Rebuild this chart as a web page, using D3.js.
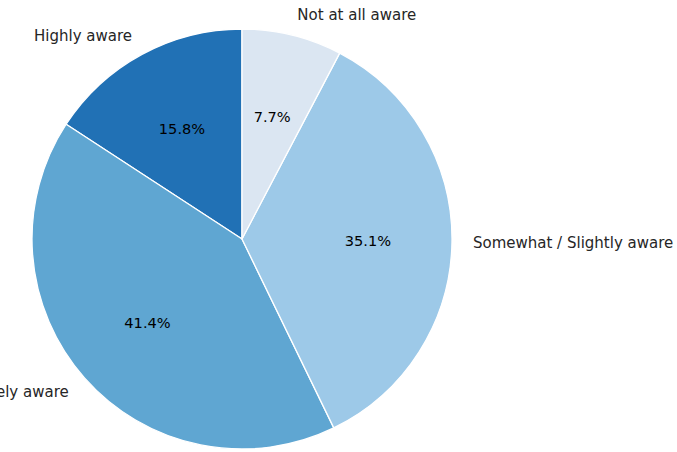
<!DOCTYPE html>
<html>
<head>
<meta charset="utf-8">
<script src="https://cdn.jsdelivr.net/npm/d3@7"></script>
<style>
  html, body { margin: 0; padding: 0; background: #fff; }
  svg { display: block; }
</style>
</head>
<body>
<svg id="chart" width="677" height="452"></svg>
<script>
const categories = ["Highly aware", "Moderately aware", "Somewhat / Slightly aware", "Not at all aware"];
const values = [15.8, 41.4, 35.1, 7.7];
const colors = ["#2171b5", "#5fa6d2", "#9dc9e8", "#dbe6f2"];

const width = 677, height = 452;
const cx = 242, cy = 239, r = 210;
const svg = d3.select("#chart");
const g = svg.append("g").attr("transform", `translate(${cx},${cy})`);

const data = categories.map((c, i) => ({ cat: c, value: values[i], color: colors[i] }));

// matplotlib style: start at 12 o'clock, counterclockwise
const pie = d3.pie().value(d => d.value).sort(null).startAngle(0).endAngle(-2 * Math.PI);
const arcs = pie(data);
const arc = d3.arc().innerRadius(0).outerRadius(r);

g.selectAll("path.slice").data(arcs).enter().append("path")
  .attr("class", "slice")
  .attr("d", arc)
  .attr("fill", d => d.data.color)
  .attr("stroke", "#fff")
  .attr("stroke-width", 1.3)
  .attr("stroke-linejoin", "round");

const font = "DejaVu Sans, sans-serif";
const total = d3.sum(values);

arcs.forEach(a => {
  const mid = (a.startAngle + a.endAngle) / 2;
  const dx = Math.sin(mid), dy = -Math.cos(mid);
  g.append("text")
    .attr("x", dx * r * 1.1)
    .attr("y", dy * r * 1.1)
    .attr("text-anchor", dx > 0 ? "start" : "end")
    .attr("dominant-baseline", "central")
    .attr("font-family", font)
    .attr("font-size", "15px")
    .attr("fill", "#262626")
    .text(a.data.cat);
  g.append("text")
    .attr("x", dx * r * 0.6)
    .attr("y", dy * r * 0.6)
    .attr("text-anchor", "middle")
    .attr("dominant-baseline", "central")
    .attr("font-family", font)
    .attr("font-size", "14.6px")
    .attr("fill", "#000")
    .text((a.data.value / total * 100).toFixed(1) + "%");
});
</script>
</body>
</html>
